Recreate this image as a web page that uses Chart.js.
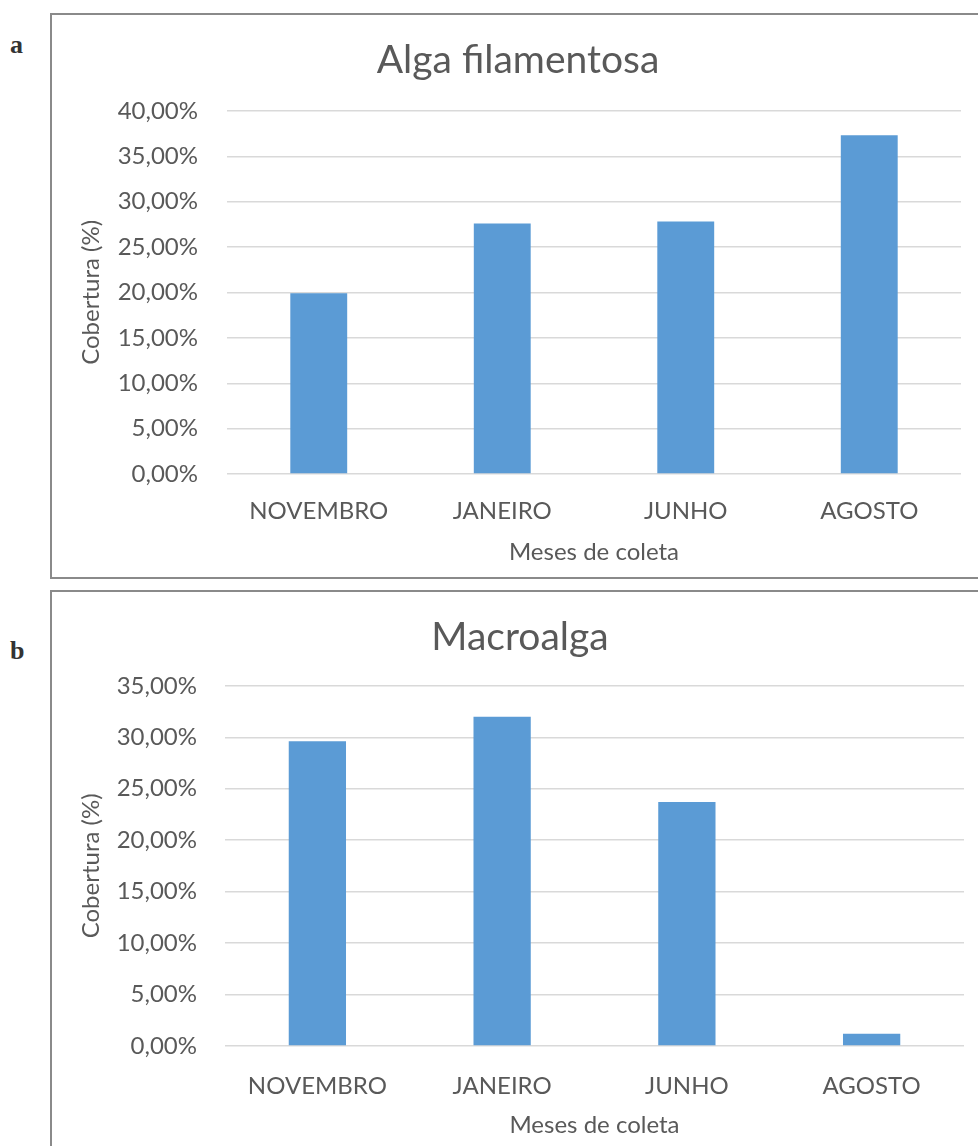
<!DOCTYPE html>
<html>
<head>
<meta charset="utf-8">
<script src="https://cdn.jsdelivr.net/npm/chart.js@4.4.1/dist/chart.umd.min.js"></script>
<style>
  html, body { margin: 0; padding: 0; background: #fff; width: 978px; height: 1146px; overflow: hidden; }
  .panel { position: absolute; border: 2px solid #8a8a8a; background: #fff; }
  .tag { position: absolute; font-family: "Liberation Serif", "DejaVu Serif", serif; font-weight: bold; font-size: 26px; color: #333; }
  canvas { position: absolute; }
</style>
</head>
<body>
<div class="tag" style="left:10px; top:30px;">a</div>
<div class="tag" style="left:10px; top:636px;">b</div>
<div class="panel" style="left:50px; top:13px; width:1000px; height:562px;"></div>
<div class="panel" style="left:50px; top:590px; width:1000px; height:600px;"></div>
<canvas id="chartA" width="926" height="561" style="left:52px; top:15px;"></canvas>
<canvas id="chartB" width="926" height="553" style="left:52px; top:592px;"></canvas>
<script>
// Months sampled
const meses = ["NOVEMBRO", "JANEIRO", "JUNHO", "AGOSTO"];

// Cover (%) per month
const coberturaFilamentosa = [19.9, 27.6, 27.8, 37.3];
const coberturaMacroalga = [29.6, 32.0, 23.7, 1.2];

// Y axis ranges (%)
const ticksFilamentosa = { max: 40, step: 5 };
const ticksMacroalga = { max: 35, step: 5 };

const titulos = ["Alga filamentosa", "Macroalga"];
const tituloX = "Meses de coleta";
const tituloY = "Cobertura (%)";

const FONT = "Lato, 'Open Sans', sans-serif";
const TXT = "#595959";
const GRID = "#d9d9d9";
const BAR = "#5b9bd5";

function formatPct(v) {
  return v.toFixed(2).replace('.', ',') + '%';
}

function makeChart(id, title, values, range, g) {
  return new Chart(document.getElementById(id), {
    type: 'bar',
    data: {
      labels: meses,
      datasets: [{
        data: values,
        backgroundColor: BAR,
        borderWidth: 0,
        categoryPercentage: 1,
        barPercentage: 0.31
      }]
    },
    options: {
      responsive: false,
      animation: false,
      devicePixelRatio: 1,
      layout: { padding: { left: g.left, right: g.right, top: 0, bottom: 0 } },
      plugins: {
        legend: { display: false },
        tooltip: { enabled: false },
        title: {
          display: true,
          text: title,
          color: TXT,
          font: { family: FONT, size: 39, weight: 'normal' },
          padding: { top: g.titleTop, bottom: g.titleBottom }
        }
      },
      scales: {
        x: {
          grid: { display: false },
          border: { display: false },
          ticks: { color: TXT, font: { family: FONT, size: 24 }, padding: g.xPad, maxRotation: 0 },
          title: { display: true, text: tituloX, color: TXT, font: { family: FONT, size: 24 }, padding: { top: 0, bottom: g.xTitlePad } },
          afterFit: s => { s.height = g.xHeight; }
        },
        y: {
          min: 0,
          max: range.max,
          grid: { color: GRID, lineWidth: 1.4, drawTicks: false },
          border: { display: false },
          ticks: { stepSize: range.step, color: TXT, font: { family: FONT, size: 24 }, padding: g.yPad, callback: v => formatPct(v) },
          title: { display: true, text: tituloY, color: TXT, font: { family: FONT, size: 24 }, padding: { top: g.yTitlePad, bottom: 0 } },
          afterFit: s => { s.width = g.yWidth; }
        }
      }
    }
  });
}

makeChart('chartA', titulos[0], coberturaFilamentosa, ticksFilamentosa, {
  left: 23, right: 17, titleTop: 22, titleBottom: 27, xPad: 15, xTitlePad: 9, xHeight: 102, yPad: 29, yTitlePad: 2, yWidth: 152
});
makeChart('chartB', titulos[1], coberturaMacroalga, ticksMacroalga, {
  left: 24, right: 14, titleTop: 22, titleBottom: 25, xPad: 18, xTitlePad: 5, xHeight: 99, yPad: 28, yTitlePad: 1, yWidth: 149
});
</script>
</body>
</html>
